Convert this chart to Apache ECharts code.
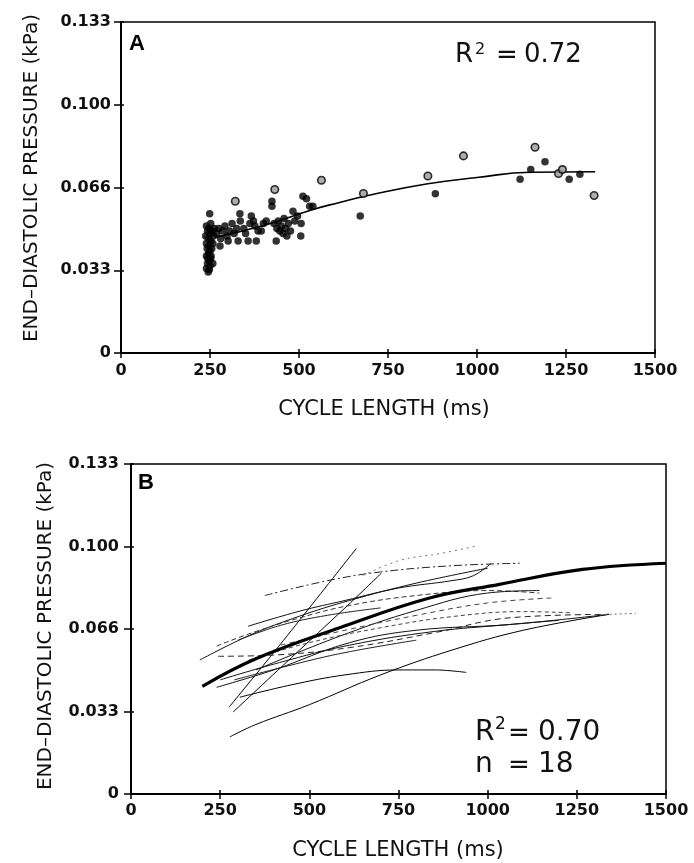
<!DOCTYPE html>
<html><head><meta charset="utf-8">
<script src="https://cdn.jsdelivr.net/npm/echarts@6/dist/echarts.min.js"></script>
<style>html,body{margin:0;padding:0;background:#fff}#c{width:694px;height:863px}</style>
</head><body><div id="c"></div>
<script>
// ---------- DATA ----------
const xTicks = [0, 250, 500, 750, 1000, 1250, 1500];
const yTickLabels = ['0', '0.033', '0.066', '0.100', '0.133'];

// Panel A: filled points (cycle length ms, pressure kPa)
const aFilledMs = [240,245,250,243,248,252,240,246,250,242,255,247,240,252,245,238,250,243,256,247,240,252,260,258,262,249,253,244,258,248,
  268,275,280,278,285,292,298,301,305,312,318,325,329,334,335,345,350,357,362,366,372,376,380,385,394,400,408,
  424,424,430,436,438,442,446,450,455,458,462,466,470,476,483,488,496,506,505,511,521,530,539,
  672,883,1121,1151,1191,1259,1289];
const aFilledKPa = [0.034,0.0325,0.035,0.036,0.037,0.038,0.039,0.040,0.041,0.042,0.042,0.043,0.044,0.045,0.046,0.047,0.048,0.049,0.049,0.050,0.051,0.052,0.047,0.044,0.050,0.056,0.039,0.038,0.036,0.0335,
  0.048,0.050,0.046,0.043,0.049,0.051,0.047,0.045,0.049,0.052,0.048,0.050,0.045,0.056,0.053,0.050,0.048,0.045,0.052,0.055,0.053,0.051,0.045,0.049,0.049,0.052,0.053,
  0.061,0.059,0.052,0.045,0.050,0.053,0.049,0.051,0.048,0.054,0.050,0.047,0.052,0.049,0.057,0.053,0.055,0.052,0.047,0.063,0.062,0.059,0.059,
  0.055,0.064,0.0698,0.0737,0.0768,0.0698,0.0718];
// Panel A: shaded (open) points
const aOpenMs = [321, 432, 563, 681, 862, 962, 1163, 1229, 1240, 1329];
const aOpenKPa = [0.061, 0.0657, 0.0694, 0.0641, 0.0711, 0.0792, 0.0827, 0.0721, 0.0737, 0.0633];
// Panel A: fitted curve
const aFitMs = [265, 400, 535, 614, 700, 862, 1000, 1150, 1332];
const aFitKPa = [0.0465, 0.0512, 0.0575, 0.0605, 0.0635, 0.068, 0.0705, 0.0726, 0.0728];

// Panel B: mean curve
const bMeanMs = [200, 350, 585, 837, 1033, 1266, 1500];
const bMeanKPa = [0.0434, 0.0545, 0.067, 0.079, 0.0845, 0.0905, 0.093];
// Panel B: 18 individual curves
const bLineMs = [
  [275, 400, 500, 632],
  [286, 450, 600, 702],
  [277, 350, 500, 700, 900, 1100, 1340],
  [305, 450, 600, 750, 850, 940],
  [193, 333, 473, 613, 800, 1000],
  [375, 552, 700, 900, 1090],
  [650, 750, 870, 970],
  [328, 473, 600, 750, 900, 960, 1010],
  [244, 400, 613, 850, 1061, 1340],
  [240, 400, 613, 800, 1061, 1340],
  [250, 417, 613, 850, 1061, 1200],
  [240, 330, 473, 613, 800, 1000, 1145],
  [350, 585, 800, 1000, 1145],
  [330, 500, 700, 900, 1100, 1240],
  [420, 600, 800, 1000, 1180],
  [290, 450, 600, 800],
  [300, 420, 550, 700],
  [1300, 1340, 1415]
];
const bLineKPa = [
  [0.035, 0.057, 0.075, 0.099],
  [0.033, 0.055, 0.075, 0.089],
  [0.023, 0.028, 0.036, 0.048, 0.058, 0.066, 0.0724],
  [0.039, 0.044, 0.048, 0.050, 0.050, 0.049],
  [0.054, 0.064, 0.0717, 0.078, 0.085, 0.091],
  [0.080, 0.086, 0.0895, 0.092, 0.093],
  [0.088, 0.094, 0.097, 0.100],
  [0.0676, 0.0737, 0.078, 0.083, 0.086, 0.088, 0.093],
  [0.0555, 0.056, 0.059, 0.065, 0.071, 0.0724],
  [0.043, 0.050, 0.061, 0.066, 0.0683, 0.0724],
  [0.046, 0.053, 0.060, 0.0655, 0.0683, 0.070],
  [0.0596, 0.0645, 0.071, 0.076, 0.080, 0.082, 0.081],
  [0.050, 0.0636, 0.074, 0.081, 0.082],
  [0.054, 0.061, 0.067, 0.0715, 0.0735, 0.073],
  [0.060, 0.066, 0.072, 0.077, 0.079],
  [0.046, 0.052, 0.057, 0.062],
  [0.062, 0.068, 0.072, 0.075],
  [0.0722, 0.0724, 0.0728]
];

// ---------- STYLE ----------
const lineDash = ['solid','solid','solid','solid','solid',[8,3,2,3],[2,4],'solid',[6,4],'solid','solid',[5,3],'solid',[4,3],[5,4],'solid','solid',[2,3]];
const lineCol = ['#000','#000','#000','#000','#111','#222','#777','#111','#222','#111','#111','#333','#111','#444','#444','#222','#222','#666'];
const font = '"Liberation Sans", Arial, sans-serif';
const dfont = '"DejaVu Sans", sans-serif';
const YMAX = 0.133, YINT = 0.133 / 4;

function pairs(xs, ys) { return xs.map((x, i) => [x, ys[i]]); }

function xAxes(gi) {
  return [
    { type: 'value', gridIndex: gi, position: 'bottom', min: 0, max: 1500, interval: 250,
      axisLine: { show: true, lineStyle: { color: '#000', width: 2 } },
      axisTick: { show: true, length: 5, lineStyle: { color: '#000', width: 1.5 } },
      axisLabel: { color: '#111', fontFamily: dfont, fontSize: 16, fontWeight: 'bold', margin: gi === 0 ? 10 : 9,
        formatter: v => String(v) },
      splitLine: { show: false } },
    { type: 'value', gridIndex: gi, position: 'bottom', min: 0, max: 1500, interval: 250,
      axisLine: { show: false }, axisTick: { show: true, inside: true, length: 4, lineStyle: { color: '#000', width: 1.5 } },
      axisLabel: { show: false }, splitLine: { show: false } }
  ];
}
function yAxes(gi) {
  return [
    { type: 'value', gridIndex: gi, position: 'left', min: 0, max: YMAX, interval: YINT,
      axisLine: { show: true, lineStyle: { color: '#000', width: 2 } },
      axisTick: { show: true, length: 7, lineStyle: { color: '#000', width: 1.5 } },
      axisLabel: { color: '#111', fontFamily: dfont, fontSize: 16, fontWeight: 'bold', margin: gi === 0 ? 10 : 12,
        formatter: v => yTickLabels[Math.round(v / YINT)] },
      splitLine: { show: false } },
    { type: 'value', gridIndex: gi, position: 'left', min: 0, max: YMAX, interval: YINT,
      axisLine: { show: false }, axisTick: { show: true, inside: true, length: 3, lineStyle: { color: '#000', width: 1.5 } },
      axisLabel: { show: false }, splitLine: { show: false } }
  ];
}

const series = [];
// Panel A
series.push({ type: 'line', xAxisIndex: 0, yAxisIndex: 0, data: pairs(aFitMs, aFitKPa), smooth: true, showSymbol: false,
  lineStyle: { color: '#000', width: 1.6 }, z: 3 });
series.push({ type: 'scatter', xAxisIndex: 0, yAxisIndex: 0, data: pairs(aFilledMs, aFilledKPa), symbolSize: 7.5,
  itemStyle: { color: '#000' }, z: 4 });
series.push({ type: 'scatter', xAxisIndex: 0, yAxisIndex: 0, data: pairs(aOpenMs, aOpenKPa), symbolSize: 7.5,
  itemStyle: { color: '#999', borderColor: '#000', borderWidth: 1.6 }, z: 4 });
// Panel B
bLineMs.forEach((ms, i) => {
  series.push({ type: 'line', xAxisIndex: 2, yAxisIndex: 2, data: pairs(ms, bLineKPa[i]), smooth: 0.4, showSymbol: false,
    lineStyle: { color: lineCol[i], width: 1, type: lineDash[i] }, z: 2 });
});
series.push({ type: 'line', xAxisIndex: 2, yAxisIndex: 2, data: pairs(bMeanMs, bMeanKPa), smooth: 0.4, showSymbol: false,
  lineStyle: { color: '#000', width: 3.2 }, z: 3 });

function t(x, y, text, size, extra) {
  return Object.assign({ type: 'text', x: x, y: y, silent: true,
    style: { text: text, font: size + 'px ' + dfont, fill: '#111', textVerticalAlign: 'middle' } }, extra || {});
}

const chart = echarts.init(document.getElementById('c'), null, { renderer: 'canvas' });
chart.setOption({
  backgroundColor: '#fff',
  animation: false,
  grid: [
    { left: 121, top: 22, width: 534, height: 331, show: true, borderColor: '#000', borderWidth: 1.5, backgroundColor: 'transparent' },
    { left: 131, top: 464, width: 535, height: 330, show: true, borderColor: '#000', borderWidth: 1.5, backgroundColor: 'transparent' }
  ],
  xAxis: [...xAxes(0), ...xAxes(1)],
  yAxis: [...yAxes(0), ...yAxes(1)],
  series: series,
  graphic: [
    { type: 'text', x: 129, y: 33, style: { text: 'A', font: 'bold 22px ' + font, fill: '#000' } },
    { type: 'text', x: 138, y: 472, style: { text: 'B', font: 'bold 22px ' + font, fill: '#000' } },
    // R^2 = 0.72 (panel A)
    t(455, 55, 'R', 26), t(475, 50, '2', 16), t(496, 56, '=', 26), t(524, 55, '0.72', 26),
    // R^2 = 0.70, n = 18 (panel B)
    t(475, 733, 'R', 28), t(495, 725, '2', 17), t(508, 734, '=', 26), t(538, 733, '0.70', 28),
    t(475, 765, 'n', 28), t(508, 766, '=', 26), t(538, 765, '18', 28),
    { type: 'text', x: 32, y: 178, rotation: Math.PI / 2, silent: true,
      style: { text: 'END–DIASTOLIC PRESSURE (kPa)', font: '20px ' + dfont, fill: '#111', textAlign: 'center', textVerticalAlign: 'middle' } },
    { type: 'text', x: 46, y: 626, rotation: Math.PI / 2, silent: true,
      style: { text: 'END–DIASTOLIC PRESSURE (kPa)', font: '20px ' + dfont, fill: '#111', textAlign: 'center', textVerticalAlign: 'middle' } },
    { type: 'text', x: 384, y: 410, silent: true, style: { text: 'CYCLE LENGTH (ms)', font: '21px ' + dfont, fill: '#111', textAlign: 'center', textVerticalAlign: 'middle' } },
    { type: 'text', x: 398, y: 851, silent: true, style: { text: 'CYCLE LENGTH (ms)', font: '21px ' + dfont, fill: '#111', textAlign: 'center', textVerticalAlign: 'middle' } }
  ]
});
</script></body></html>
